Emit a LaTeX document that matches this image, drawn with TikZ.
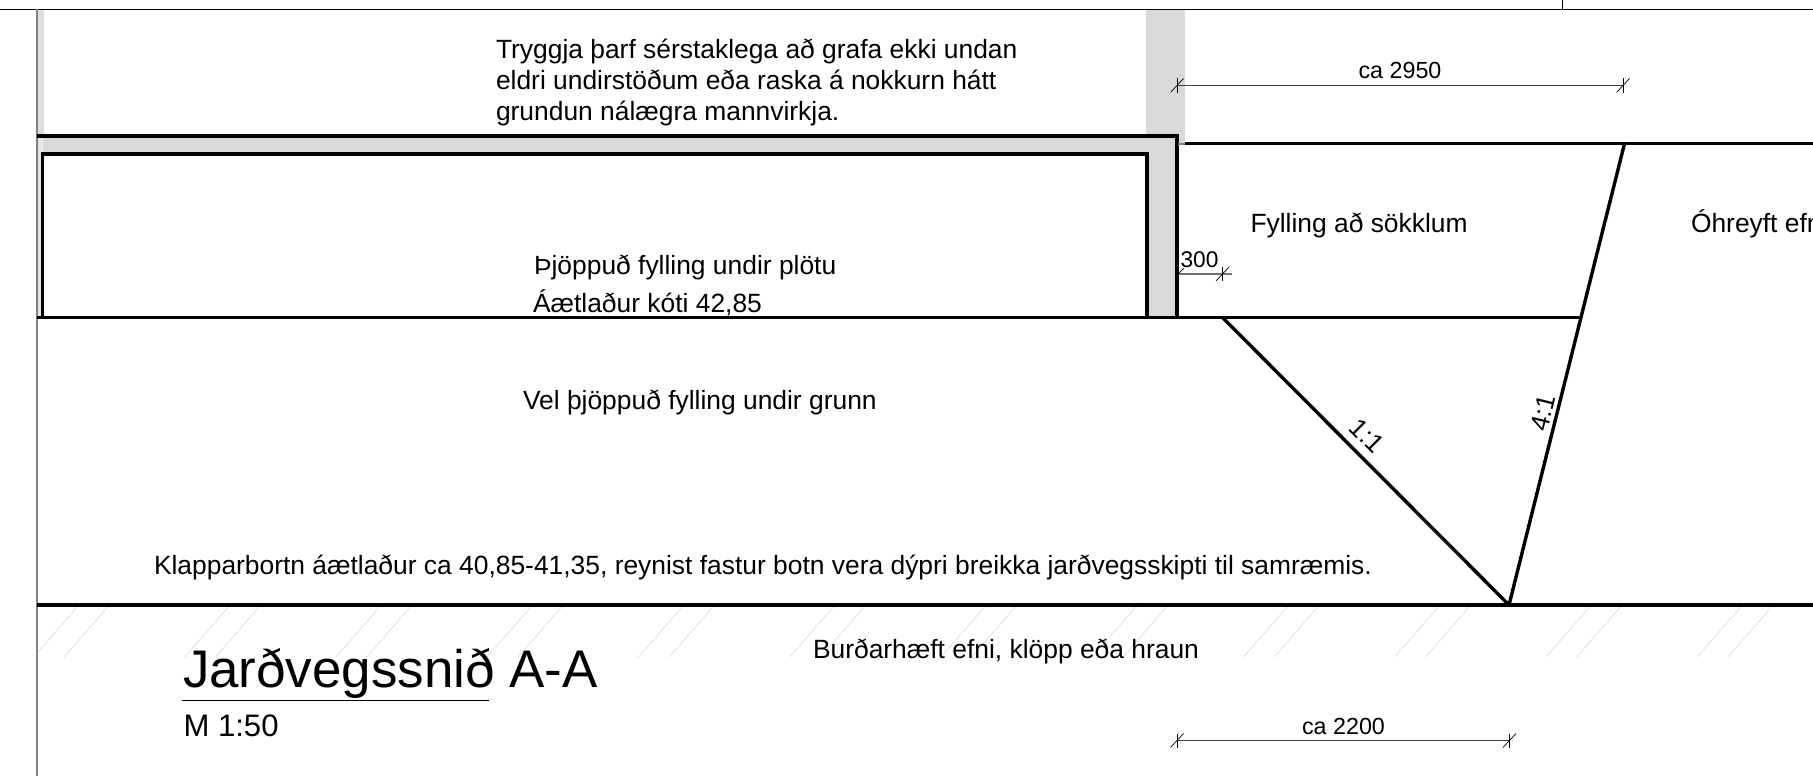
\documentclass[tikz,border=0pt]{standalone}
\usepackage{fontspec}
\setmainfont{Liberation Sans}
\definecolor{wallgray}{HTML}{D9D9D9}
\definecolor{hatchgray}{HTML}{DEDEDE}
\definecolor{axisgray}{HTML}{808080}
\newcommand{\fs}[1]{\fontsize{#1}{#1}\selectfont}
\tikzset{
  x=1pt,y=-1pt,
  heavy/.style={draw=black,line width=3.4pt,line cap=butt},
  thin line/.style={draw=black,line width=1pt},
  dim/.style={draw=black!75,line width=1.1pt},
  tick/.style={draw=black,line width=0.7pt},
  hatch/.style={draw=hatchgray,line width=0.7pt},
  lbl/.style={anchor=base west,inner sep=0pt,outer sep=0pt,font=\fs{26.4}},
  dimlbl/.style={anchor=base,inner sep=0pt,outer sep=0pt,font=\fs{23.3}},
  slope/.style={anchor=center,inner sep=0pt,outer sep=0pt,font=\fs{26}}
}
\begin{document}
\begin{tikzpicture}
\useasboundingbox (0,0) rectangle (1813,776);
\fill[white] (0,0) rectangle (1813,776);
% grey areas
\fill[wallgray!90] (38,10) rectangle (44,136);
\fill[wallgray!70] (38,136) rectangle (42,318);
\fill[wallgray] (1146,10) rectangle (1185,136);
\fill[wallgray] (1177,136) rectangle (1185,143);
\fill[wallgray] (37,136) -- (1177,136) -- (1177,318) -- (1147,318) -- (1147,154) -- (42.6,154) -- (42.6,136) -- cycle;
% frame
\draw[thin line] (0,9.5) -- (1813,9.5);
\draw[thin line] (1562,0) -- (1562,9.5);
\draw[draw=axisgray,line width=1.4pt] (37,9.5) -- (37,776);
% hatching
\foreach \k in {0,...,11}{
  \pgfmathsetmacro{\xa}{78+151.25*\k}
  \pgfmathsetmacro{\xb}{108.7+151.25*\k}
  \ifnum\k=0
    \draw[hatch] (78,606) -- (38,652);
  \else
    \draw[hatch] (\xa,606) -- (\xa-44.5,657);
  \fi
  \draw[hatch] (\xb,606) -- (\xb-44.5,657);
}
% outline of the building
\draw[heavy] (37,136) -- (1177,136) -- (1177,318);
\draw[heavy] (42.6,318) -- (42.6,154) -- (1147,154) -- (1147,318);
\draw[heavy] (37,317.7) -- (1581,317.7);
\draw[draw=black!50,line width=2pt] (1178,143.5) -- (1185,143.5);
\draw[heavy] (1185,143.5) -- (1813,143.5);
\draw[heavy] (37,605) -- (1813,605);
\coordinate (slopetop) at (1624.5,143.5);
\coordinate (slopefoot) at (1509,605);
\coordinate (toe) at (1223,318);
\draw[heavy,line cap=round] (slopetop) -- (slopefoot);
\draw[heavy,line cap=round] (toe) -- (slopefoot);
% dimensions
\coordinate (a1) at (1177,85.5); \coordinate (a2) at (1623,85.5);
\draw[dim] (a1) -- (a2);
\coordinate (b1) at (1177,740.5); \coordinate (b2) at (1509.5,740.5);
\draw[dim] (b1) -- (b2);
\foreach \p in {a1,a2,b1,b2}{
  \draw[tick] ([shift={(-6.5,7)}]\p) -- ([shift={(6.5,-7)}]\p);
  \draw[tick] ([shift={(0,-7)}]\p) -- ([shift={(0,7)}]\p);
}
\coordinate (c1) at (1178.5,274); \coordinate (c2) at (1232,274); \coordinate (c3) at (1222.5,274);
\draw[draw=black!55,line width=1.4pt] (c1) -- (c2);
\draw[tick] (1179,273) -- (1184,268);
\draw[tick] ([shift={(-6.5,7)}]c3) -- ([shift={(6.5,-7)}]c3);
\draw[tick] ([shift={(0,-7)}]c3) -- ([shift={(0,7)}]c3);
% title rule
\coordinate (r1) at (182,700.5); \coordinate (r2) at (489,700.5);
\draw[draw=black,line width=1.7pt] (r1) -- (r2);
% text
\node[lbl] (t1) at (496,58.6) {Tryggja þarf sérstaklega að grafa ekki undan};
\node[lbl] (t2) at (496,89.6) {eldri undirstöðum eða raska á nokkurn hátt};
\node[lbl] (t3) at (496,121) {grundun nálægra mannvirkja.};
\node[lbl] (t4) at (534,274.6) {Þjöppuð fylling undir plötu};
\node[lbl] (t5) at (533,312.6) {Áætlaður kóti 42,85};
\node[lbl] (t6) at (523,409.6) {Vel þjöppuð fylling undir grunn};
\node[lbl] (t7) at (154,574) {Klapparbortn áætlaður ca 40,85-41,35, reynist fastur botn vera dýpri breikka jarðvegsskipti til samræmis.};
\node[lbl] (t8) at (813,658.6) {Burðarhæft efni, klöpp eða hraun};
\node[lbl] (t9) at (1250.5,232) {Fylling að sökklum};
\node[lbl] (t10) at (1691,232) {Óhreyft efni};
\node[lbl,font=\fs{52.9}] (title) at (183,687) {Jarðvegssnið A-A};
\node[lbl,font=\fs{31.1}] (scale) at (183.5,736) {M 1:50};
\node[dimlbl] (d1) at (1400,78.5) {ca 2950};
\node[dimlbl] (d2) at (1343.5,734) {ca 2200};
\node[lbl,font=\fs{22.7}] (d3) at (1180.5,267) {300};
\node[slope,rotate=-45] (s1) at (1367,436) {1:1};
\node[slope,rotate=76] (s2) at (1543,413) {4:1};
\end{tikzpicture}
\end{document}
